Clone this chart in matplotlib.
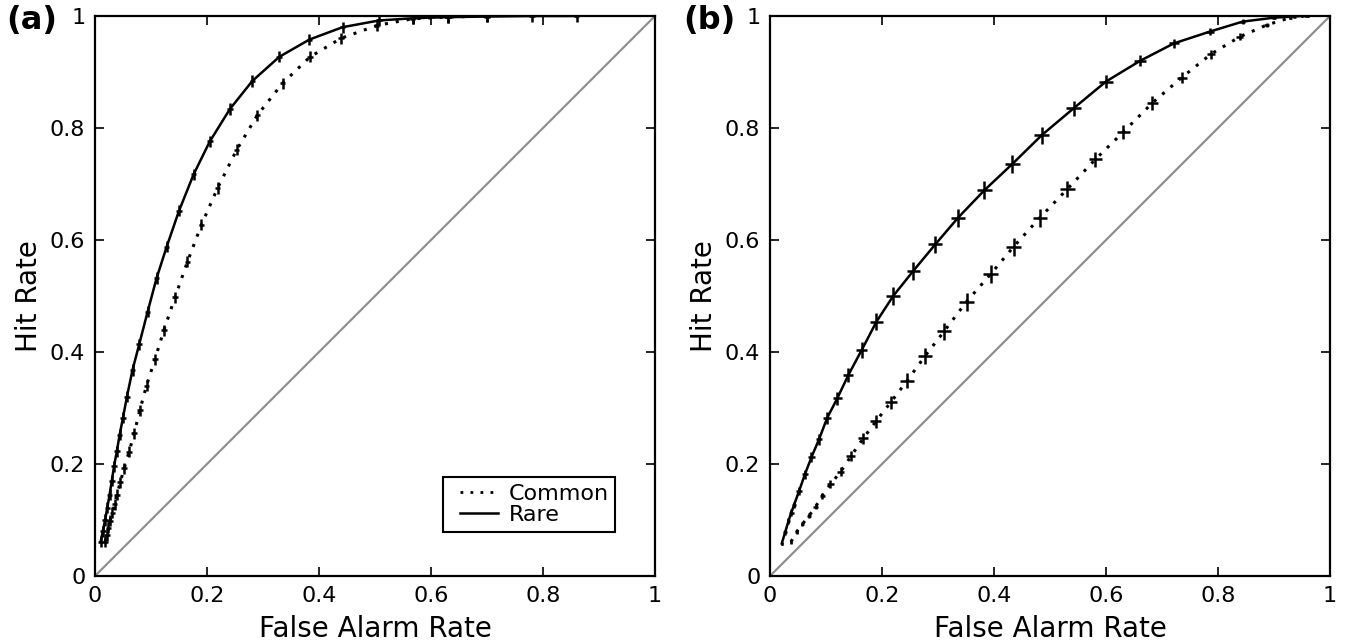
import numpy as np
import matplotlib
matplotlib.use('Agg')
import matplotlib.pyplot as plt
from matplotlib.legend_handler import HandlerLine2D

# ---- data: (false alarm rate, hit rate) ----
# panel (a)
a_rare_x = [0.010, 0.014, 0.018, 0.022, 0.026, 0.030, 0.034, 0.039, 0.044, 0.050,
            0.057, 0.067, 0.079, 0.094, 0.110, 0.128, 0.150, 0.176, 0.205, 0.241,
            0.281, 0.329, 0.383, 0.442, 0.507, 0.568, 0.630, 0.700, 0.780, 0.860]
a_rare_y = [0.061, 0.080, 0.100, 0.122, 0.145, 0.170, 0.196, 0.223, 0.252, 0.283,
            0.320, 0.368, 0.414, 0.472, 0.532, 0.588, 0.652, 0.717, 0.776, 0.834,
            0.884, 0.927, 0.958, 0.980, 0.992, 0.996, 0.998, 0.999, 1.000, 1.000]
a_common_x = [0.018, 0.021, 0.024, 0.027, 0.031, 0.035, 0.039, 0.045, 0.052, 0.061,
              0.070, 0.080, 0.092, 0.107, 0.123, 0.143, 0.165, 0.190, 0.219, 0.253,
              0.290, 0.335, 0.384, 0.439, 0.503, 0.567, 0.630, 0.700]
a_common_y = [0.061, 0.073, 0.086, 0.099, 0.113, 0.128, 0.145, 0.167, 0.192, 0.222,
              0.255, 0.296, 0.340, 0.387, 0.439, 0.498, 0.561, 0.627, 0.693, 0.761,
              0.823, 0.880, 0.927, 0.960, 0.983, 0.995, 0.998, 1.000]
a_xerr = 0.005
a_yerr = 0.010

# panel (b)
b_rare_x = [0.021, 0.027, 0.033, 0.038, 0.043, 0.052, 0.0625, 0.074, 0.0875, 0.102,
            0.120, 0.140, 0.164, 0.190, 0.220, 0.256, 0.295, 0.336, 0.383, 0.433,
            0.485, 0.542, 0.600, 0.661, 0.721, 0.785, 0.844, 0.900, 0.950]
b_rare_y = [0.058, 0.078, 0.098, 0.113, 0.127, 0.152, 0.182, 0.212, 0.244, 0.282,
            0.317, 0.359, 0.404, 0.454, 0.500, 0.545, 0.592, 0.640, 0.689, 0.736,
            0.787, 0.835, 0.883, 0.920, 0.951, 0.972, 0.990, 0.997, 1.000]
b_rare_xerr = [0.002, 0.003, 0.003, 0.004, 0.004, 0.005, 0.005, 0.006, 0.006, 0.007,
               0.008, 0.009, 0.010, 0.011, 0.012, 0.012, 0.013, 0.013, 0.013, 0.013,
               0.013, 0.013, 0.012, 0.011, 0.009, 0.007, 0.005, 0.003, 0.002]
b_rare_yerr = [0.003, 0.004, 0.005, 0.006, 0.006, 0.007, 0.008, 0.009, 0.010, 0.011,
               0.012, 0.013, 0.014, 0.015, 0.016, 0.016, 0.016, 0.016, 0.016, 0.016,
               0.015, 0.014, 0.012, 0.010, 0.008, 0.006, 0.004, 0.003, 0.002]
b_common_x = [0.0375, 0.0476, 0.058, 0.070, 0.0815, 0.0934, 0.108, 0.126, 0.1446, 0.1667,
              0.189, 0.2155, 0.245, 0.277, 0.311, 0.351, 0.394, 0.435, 0.482, 0.531,
              0.581, 0.631, 0.683, 0.735, 0.7875, 0.839, 0.887, 0.929, 0.960]
b_common_y = [0.061, 0.079, 0.093, 0.108, 0.124, 0.143, 0.164, 0.186, 0.214, 0.246,
              0.276, 0.310, 0.349, 0.393, 0.437, 0.490, 0.539, 0.588, 0.640, 0.691,
              0.744, 0.793, 0.845, 0.890, 0.932, 0.963, 0.984, 0.997, 1.000]
b_common_xerr = [0.002, 0.003, 0.003, 0.004, 0.004, 0.005, 0.006, 0.007, 0.008, 0.009,
                 0.010, 0.011, 0.012, 0.012, 0.013, 0.013, 0.013, 0.013, 0.013, 0.013,
                 0.012, 0.011, 0.010, 0.009, 0.008, 0.006, 0.004, 0.003, 0.002]
b_common_yerr = [0.003, 0.004, 0.004, 0.005, 0.005, 0.006, 0.007, 0.008, 0.009, 0.010,
                 0.011, 0.012, 0.013, 0.014, 0.015, 0.016, 0.016, 0.016, 0.016, 0.015,
                 0.014, 0.013, 0.012, 0.010, 0.008, 0.006, 0.004, 0.003, 0.002]

ticks = [0, 0.2, 0.4, 0.6, 0.8, 1.0]
tick_labels = ['0', '0.2', '0.4', '0.6', '0.8', '1']

DOTTED = (0, (1, 2.6))

plt.rcParams['font.family'] = 'DejaVu Sans'

fig = plt.figure(figsize=(13.51, 6.44), dpi=100)
ax_a = fig.add_axes([95 / 1351, 68 / 644, 560 / 1351, 560 / 644])
ax_b = fig.add_axes([770 / 1351, 68 / 644, 560 / 1351, 560 / 644])


def style_axes(ax):
    ax.plot([0, 1], [0, 1], color='#909090', lw=1.6, zorder=1)
    ax.set_xlim(0, 1)
    ax.set_ylim(0, 1)
    ax.set_xticks(ticks)
    ax.set_yticks(ticks)
    ax.set_xticklabels(tick_labels)
    ax.set_yticklabels(tick_labels)
    ax.tick_params(direction='in', length=6.5, width=1.2, labelsize=16,
                   top=True, right=True, pad=7)
    for sp in ax.spines.values():
        sp.set_linewidth(1.6)
    ax.set_xlabel('False Alarm Rate', fontsize=20, labelpad=7)
    ax.set_ylabel('Hit Rate', fontsize=20, labelpad=5)


def draw_series(ax, x, y, xerr, yerr, ls, lw, label):
    ax.errorbar(x, y, xerr=xerr, yerr=yerr, color='black', ls=ls, lw=lw,
                elinewidth=1.8, capsize=0, label=label, zorder=3)


style_axes(ax_a)
draw_series(ax_a, a_common_x, a_common_y, a_xerr, a_yerr, DOTTED, 2.2, 'Common')
draw_series(ax_a, a_rare_x, a_rare_y, a_xerr, a_yerr, '-', 1.8, 'Rare')

style_axes(ax_b)
draw_series(ax_b, b_common_x, b_common_y, b_common_xerr, b_common_yerr, DOTTED, 2.2, 'Common')
draw_series(ax_b, b_rare_x, b_rare_y, b_rare_xerr, b_rare_yerr, '-', 1.8, 'Rare')

handles = [plt.Line2D([], [], color='black', ls=DOTTED, lw=2.0),
           plt.Line2D([], [], color='black', ls='-', lw=1.8)]
leg = ax_a.legend(handles, ['Common', 'Rare'], loc='lower right',
                  bbox_to_anchor=(0.929, 0.079), borderaxespad=0, fontsize=16,
                  fancybox=False, framealpha=1, edgecolor='black',
                  handlelength=2.2, handletextpad=0.45, borderpad=0.3,
                  labelspacing=0.05,
                  handler_map={plt.Line2D: HandlerLine2D(xpad=0.45)})
leg.get_frame().set_linewidth(1.5)

fig.text(6 / 1351, 1 - 5 / 644, '(a)', fontsize=23, fontweight='bold', va='top', ha='left')
fig.text(683 / 1351, 1 - 5 / 644, '(b)', fontsize=23, fontweight='bold', va='top', ha='left')

fig.savefig('out.png', dpi=100)
